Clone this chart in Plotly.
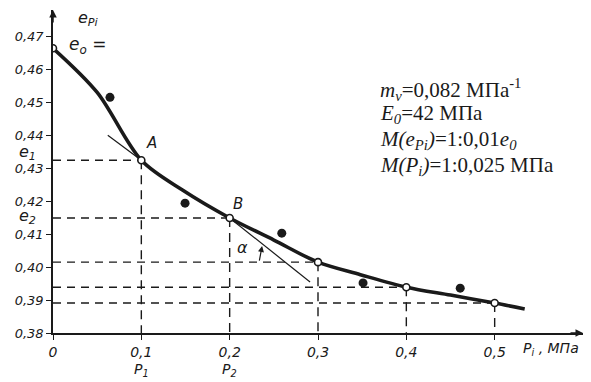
import plotly.graph_objects as go

# --- data ---
curve_p = [0, 0.05, 0.1, 0.147, 0.2, 0.25, 0.3, 0.348, 0.4, 0.45, 0.5, 0.534]
curve_e = [0.4664, 0.4530, 0.4324, 0.4233, 0.4149, 0.4082, 0.4015, 0.3977, 0.3939, 0.3915, 0.3891, 0.3873]

key_p = [0, 0.1, 0.2, 0.3, 0.4, 0.5]
key_e = [0.4664, 0.4324, 0.4149, 0.4015, 0.3939, 0.3891]

exp_p = [0.0645, 0.1495, 0.259, 0.351, 0.461]
exp_e = [0.4515, 0.4194, 0.4103, 0.3952, 0.3936]

tanA_p = [0.062, 0.1]
tanA_e = [0.440, 0.4324]
tanB_p = [0.2, 0.291]
tanB_e = [0.4149, 0.3955]

y_ticks = [0.38, 0.39, 0.40, 0.41, 0.42, 0.43, 0.44, 0.45, 0.46, 0.47]
y_tick_labels = ["0,38", "0,39", "0,40", "0,41", "0,42", "0,43", "0,44", "0,45", "0,46", "0,47"]
x_ticks = [0, 0.1, 0.2, 0.3, 0.4, 0.5]
x_tick_labels = ["0", "0,1", "0,2", "0,3", "0,4", "0,5"]

params = [
    "<i>m<sub>v</sub></i>=0,082 МПа<sup>-1</sup>",
    "<i>E<sub>0</sub></i>=42 МПа",
    "<i>M(e<sub>Pi</sub>)</i>=1:0,01<i>e<sub>0</sub></i>",
    "<i>M(P<sub>i</sub>)</i>=1:0,025 МПа",
]

INK = "#1a1a1a"
HAND = "DejaVu Sans"
SERIF = "Liberation Serif"

# page pixel -> paper coordinates (plot area spans 53..583 x, 10..333 y on the page)
def px(x):
    return (x - 53) / 530.0
def py(y):
    return (333 - y) / 323.0

fig = go.Figure()

# dashed guide lines
for p, e in zip(key_p[1:], key_e[1:]):
    fig.add_trace(go.Scatter(x=[0, p], y=[e, e], mode="lines",
                             line=dict(color=INK, width=1.4, dash="8px,6px"),
                             hoverinfo="skip", showlegend=False))
    fig.add_trace(go.Scatter(x=[p, p], y=[e, 0.38], mode="lines",
                             line=dict(color=INK, width=1.4, dash="9px,6px"),
                             hoverinfo="skip", showlegend=False))

# tangents
fig.add_trace(go.Scatter(x=tanA_p, y=tanA_e, mode="lines",
                         line=dict(color=INK, width=1.2), showlegend=False))
fig.add_trace(go.Scatter(x=tanB_p, y=tanB_e, mode="lines",
                         line=dict(color=INK, width=1.2), showlegend=False))

# compression curve
fig.add_trace(go.Scatter(x=curve_p, y=curve_e, mode="lines",
                         line=dict(color=INK, width=3.6, shape="spline", smoothing=0.9),
                         showlegend=False))

# experimental points
fig.add_trace(go.Scatter(x=exp_p, y=exp_e, mode="markers",
                         marker=dict(color=INK, size=9), showlegend=False))

# key points (open circles)
fig.add_trace(go.Scatter(x=key_p, y=key_e, mode="markers",
                         marker=dict(color="white", size=7, line=dict(color=INK, width=1.6)),
                         showlegend=False))

ann = []
def txt(x, y, t, size=15, xref="x", yref="y", font=HAND, xanchor="center", yanchor="middle"):
    ann.append(dict(x=x, y=y, xref=xref, yref=yref, text=t, showarrow=False,
                    font=dict(family=font, size=size, color=INK),
                    xanchor=xanchor, yanchor=yanchor))

# axis arrows
ann.append(dict(x=0.6, y=0.38, xref="x", yref="y", ax=-14, ay=0, showarrow=True,
                arrowhead=2, arrowsize=1, arrowwidth=1.5, arrowcolor=INK, text=""))
ann.append(dict(x=0.0, y=0.478, xref="x", yref="y", ax=0, ay=14, showarrow=True,
                arrowhead=2, arrowsize=1, arrowwidth=1.5, arrowcolor=INK, text=""))

# angle alpha arrow
ann.append(dict(x=0.2367, y=0.4064, ax=0.2333, ay=0.4015, xref="x", yref="y",
                axref="x", ayref="y", showarrow=True, arrowhead=2, arrowsize=1,
                arrowwidth=1.2, arrowcolor=INK, text=""))
txt(0.215, 0.4058, "<i>α</i>", size=16)
txt(0.111, 0.4375, "<i>A</i>", size=15)
txt(0.2095, 0.4190, "<i>B</i>", size=15)

# labels on y side
txt(px(87), py(45), "<i>e<sub>o</sub> =</i>", size=17, xref="paper", yref="paper")
txt(px(27), py(152), "<i>e<sub>1</sub></i>", size=16, xref="paper", yref="paper")
txt(px(27), py(216), "<i>e<sub>2</sub></i>", size=16, xref="paper", yref="paper")
txt(px(88), py(19), "<i>e<sub>Pi</sub></i>", size=16, xref="paper", yref="paper")

# labels on x side
txt(0.1, py(370), "<i>P<sub>1</sub></i>", size=14, yref="paper")
txt(0.2, py(370), "<i>P<sub>2</sub></i>", size=14, yref="paper")
txt(px(551), py(349), "<i>P<sub>i</sub> , МПа</i>", size=14, xref="paper", yref="paper")

# parameter block
for t, yp in zip(params, [89, 114, 140, 166]):
    txt(px(378), py(yp), t, size=21, xref="paper", yref="paper", font=SERIF, xanchor="left")

# the page adds an 8px body margin; margins are shifted so the plot area lands
# at 53..583 x 10..333 in the window, as in the reference
fig.update_layout(
    width=591, height=382,
    margin=dict(l=45, r=16, t=2, b=57),
    paper_bgcolor="white", plot_bgcolor="white",
    annotations=ann,
    xaxis=dict(range=[0, 0.6], showgrid=False, zeroline=False, showline=True,
               linecolor=INK, linewidth=1.6, ticks="outside", ticklen=5,
               tickcolor=INK, tickwidth=1.4,
               tickvals=x_ticks, ticktext=["<i>%s</i>" % s for s in x_tick_labels],
               tickfont=dict(family=HAND, size=14, color=INK)),
    yaxis=dict(range=[0.38, 0.478], showgrid=False, zeroline=False, showline=True,
               linecolor=INK, linewidth=1.6, ticks="outside", ticklen=5,
               tickcolor=INK, tickwidth=1.4,
               tickvals=y_ticks, ticktext=["<i>%s</i>" % s for s in y_tick_labels],
               tickfont=dict(family=HAND, size=13, color=INK)),
)

fig.write_html("out.html")
